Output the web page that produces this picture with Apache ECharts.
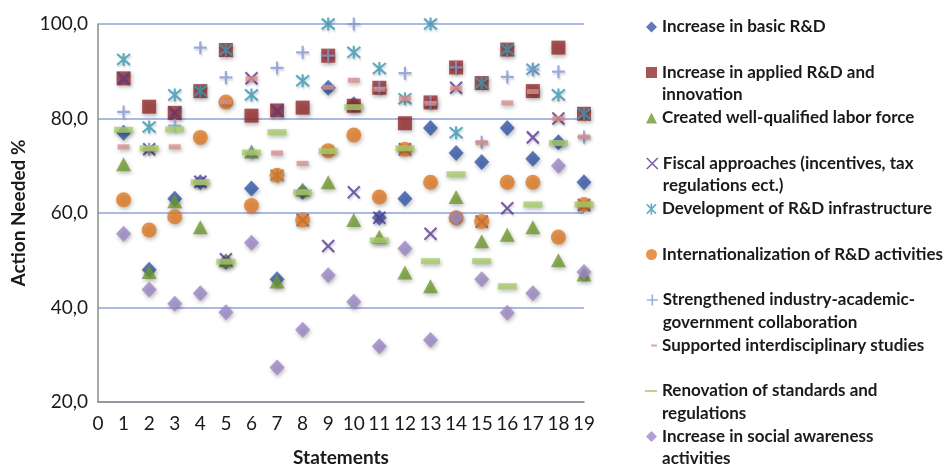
<!DOCTYPE html>
<html>
<head>
<meta charset="utf-8">
<script src="https://cdn.jsdelivr.net/npm/echarts@6/dist/echarts.min.js"></script>
<style>html,body{margin:0;padding:0;background:#fff}#c{width:951px;height:469px}</style>
</head>
<body>
<div id="c"></div>
<script>
var statements = [1,2,3,4,5,6,7,8,9,10,11,12,13,14,15,16,17,18,19];
var xTickLabels = ['0','1','2','3','4','5','6','7','8','9','10','11','12','13','14','15','16','17','18','19'];
var yTickLabels = ['20,0','40,0','60,0','80,0','100,0'];

var basicRD        = [77, 48, 63, 66.5, 49.7, 65.2, 46, 64.5, 86.5, 83, 59, 63, 78, 72.7, 70.8, 78, 71.5, 75, 66.5];
var appliedRD      = [88.5, 82.5, 81.2, 85.8, 94.5, 80.6, 81.7, 82.3, 93.3, 82.7, 86.5, 79, 83.4, 90.8, 87.5, 94.6, 85.8, 95, 81];
var laborForce     = [70.3, 47.5, 62.5, 57, 50, 73, 45.5, 65, 66.5, 58.5, 55, 47.4, 44.5, 63.4, 54, 55.4, 57, 50, 47];
var fiscal         = [88.5, 73.5, 81.2, 66.6, 50.2, 88.5, 81.7, 58.5, 53, 64.4, 59, 73.5, 55.6, 86.5, 58.2, 61, 76, 80, 61.7];
var infrastructure = [92.5, 78.2, 85, 85.8, 94.5, 85, 68, 88, 100, 94, 90.6, 84.2, 100, 77, 87.5, 94.6, 90.4, 85, 81];
var international  = [62.8, 56.4, 59.2, 76, 83.5, 61.6, 68, 58.5, 73.2, 76.5, 63.4, 73.5, 66.5, 59, 58.2, 66.5, 66.5, 54.9, 61.8];
var collaboration  = [81.4, 73.5, 78.5, 95, 88.7, 72.8, 90.7, 94, 93.3, 100, 86.5, 89.6, 83.4, 90.8, 75, 88.8, 90.4, 89.9, 76.1];
var interdisc      = [74, 73.5, 74, 66.5, 83.5, 88.4, 72.7, 70.5, 86.6, 88.1, 86.2, 84.2, 83.2, 86.4, 74.9, 83.3, 85.7, 80, 76.1];
var standards      = [77.6, 73.7, 77.7, 66.5, 49.7, 72.8, 77.1, 64.4, 73.1, 82.4, 54.2, 73.7, 49.8, 68.2, 49.8, 44.5, 61.8, 74.8, 61.8];
var awareness      = [55.6, 43.8, 40.8, 43, 39, 53.7, 27.3, 35.3, 46.8, 41.2, 31.8, 52.5, 33.1, 59, 46, 38.9, 43, 70, 47.5];

var seriesNames = [
  'Increase in basic R&D',
  'Increase in applied R&D and innovation',
  'Created well-qualified labor force',
  'Fiscal approaches (incentives, tax regulations ect.)',
  'Development of R&D infrastructure',
  'Internationalization of R&D activities',
  'Strengthened industry-academic-government collaboration',
  'Supported interdisciplinary studies',
  'Renovation of standards and regulations',
  'Increase in social awareness activities'
];
var legendLines = [
  'Increase in basic R&D',
  'Increase in applied R&D and\ninnovation',
  'Created well-qualified labor force',
  'Fiscal approaches (incentives, tax\nregulations ect.)',
  'Development of R&D infrastructure',
  'Internationalization of R&D activities',
  'Strengthened industry-academic-\ngovernment collaboration',
  'Supported interdisciplinary studies',
  'Renovation of standards and\nregulations',
  'Increase in social awareness\nactivities'
];
var seriesValues = [basicRD, appliedRD, laborForce, fiscal, infrastructure, international, collaboration, interdisc, standards, awareness];

var X_PATH = 'path://M0,0L10,10M10,0L0,10';
var AST_PATH = 'path://M0,0L10,10M10,0L0,10M5,-1L5,11';
var PLUS_PATH = 'path://M5,0L5,10M0,5L10,5';

var styles = [
  {symbol:'diamond', size:[15,16], color:'#3558A8', stroke:false, lIcon:'diamond', lw:11, lh:11},
  {symbol:'rect', size:14, color:'#952B2A', stroke:false, lIcon:'rect', lw:11, lh:11},
  {symbol:'triangle', size:[15,14], color:'#6F9A2F', stroke:false, lIcon:'triangle', lw:11, lh:11},
  {symbol:X_PATH, size:12, color:'#5B3A92', stroke:true, lIcon:X_PATH, lw:11, lh:11},
  {symbol:AST_PATH, size:13, color:'#3A98B5', stroke:true, lIcon:AST_PATH, lw:11, lh:11},
  {symbol:'circle', size:15, color:'#E07B24', stroke:false, lIcon:'circle', lw:11, lh:11},
  {symbol:PLUS_PATH, size:13, color:'#8497D6', stroke:true, lIcon:PLUS_PATH, lw:11, lh:11},
  {symbol:'rect', size:[12,5], color:'#D88F8E', stroke:false, lIcon:'rect', lw:6, lh:2},
  {symbol:'rect', size:[19,6], color:'#A9CD6C', stroke:false, lIcon:'rect', lw:12, lh:2},
  {symbol:'diamond', size:[15,16], color:'#9C88C6', stroke:false, lIcon:'diamond', lw:11, lh:11}
];

var series = seriesNames.map(function(name, i){
  var st = styles[i];
  var data = statements.map(function(s, k){ return [s, seriesValues[i][k]]; });
  var itemStyle = {
    color: st.color,
    shadowBlur: 4, shadowColor: 'rgba(0,0,0,0.35)', shadowOffsetX: 1, shadowOffsetY: 2
  };
  if (st.stroke) {
    itemStyle.borderColor = st.color;
    itemStyle.borderWidth = 2.2;
    itemStyle.shadowBlur = 2;
    itemStyle.shadowColor = 'rgba(0,0,0,0.2)';
  }
  return {
    name: name, type: 'scatter', data: data,
    symbol: st.symbol, symbolSize: st.size,
    itemStyle: itemStyle,
    emphasis: {disabled: true},
    animation: false
  };
});

var FONT = 'Lato';
var LH = 22.5;
var legends = legendLines.map(function(txt, i){
  var st = styles[i];
  var twoLines = txt.indexOf('\n') >= 0;
  var lineY = 27 + 45.5 * i;
  // two-line entries get a blank leading line so the icon sits beside the first text line
  var shown = twoLines ? ('\u00a0\n' + txt) : txt;
  var topPos = twoLines ? (lineY - 1.5 * LH) : (lineY - 0.5 * LH);
  var leftPos = 646 + (11 - st.lw);
  return {
    data: [{name: seriesNames[i], icon: st.lIcon, itemStyle: {color: st.color, borderColor: st.color, borderWidth: st.stroke ? 1.6 : 0, shadowBlur: 0, shadowOffsetX:0, shadowOffsetY:0}}],
    left: leftPos, top: topPos, padding: 0,
    itemWidth: st.lw, itemHeight: st.lh, itemGap: 0,
    selectedMode: false,
    formatter: function(){ return shown; },
    textStyle: {
      fontFamily: FONT, fontWeight: 'bold', fontSize: 17, color: '#1a1a1a', lineHeight: LH
    }
  };
});

var chart = echarts.init(document.getElementById('c'), null, {renderer: 'canvas'});
chart.setOption({
  backgroundColor: '#ffffff',
  animation: false,
  textStyle: {fontFamily: FONT},
  grid: {left: 98, right: 367, top: 24, bottom: 67, containLabel: false, outerBoundsMode: 'none'},
  xAxis: {
    type: 'value', min: 0, max: 19, interval: 1,
    axisLine: {show: true, onZero: false, lineStyle: {color: '#8c8c8c', width: 1.5}},
    axisTick: {show: false},
    splitLine: {show: false},
    axisLabel: {fontFamily: FONT, fontSize: 19, color: '#1a1a1a', margin: 12,
      formatter: function(v){ return xTickLabels[Math.round(v)]; }},
    name: 'Statements', nameLocation: 'middle', nameGap: 46,
    nameTextStyle: {fontFamily: FONT, fontWeight: 'bold', fontSize: 19, color: '#1a1a1a'}
  },
  yAxis: {
    type: 'value', min: 20, max: 100, interval: 20,
    axisLine: {show: true, onZero: false, lineStyle: {color: '#8c8c8c', width: 1.5}},
    axisTick: {show: false},
    splitLine: {show: true, lineStyle: {color: '#8EA2DE', width: 1.5}},
    axisLabel: {fontFamily: FONT, fontSize: 19, color: '#1a1a1a', margin: 10,
      formatter: function(v){ return yTickLabels[Math.round((v - 20) / 20)]; }},
    name: 'Action Needed %', nameLocation: 'middle', nameGap: 54,
    nameTextStyle: {fontFamily: FONT, fontWeight: 'bold', fontSize: 19, color: '#1a1a1a'}
  },
  legend: legends,
  series: series
});
</script>
</body>
</html>
